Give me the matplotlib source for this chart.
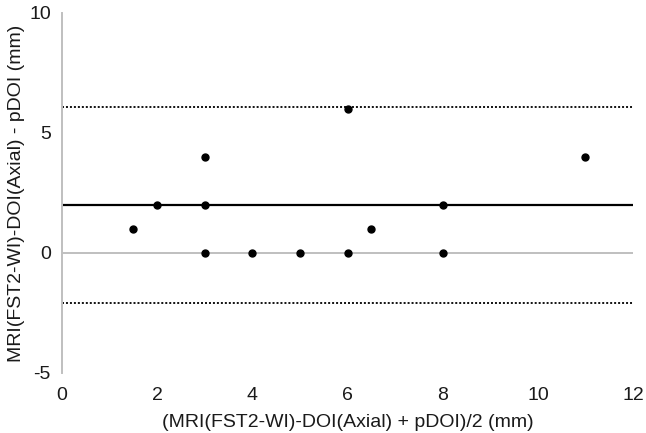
import matplotlib
matplotlib.use("Agg")
import matplotlib.pyplot as plt

# Data (Bland-Altman)
mean_vals = [1.5, 2, 3, 3, 3, 4, 5, 6, 6, 6.5, 8, 8, 11]
diff_vals = [1, 2, 4, 2, 0, 0, 0, 6, 0, 1, 2, 0, 4]
bias = 2.0
upper_loa = 6.08
lower_loa = -2.08
x_ticks = [0, 2, 4, 6, 8, 10, 12]
y_ticks = [-5, 0, 5, 10]
x_label = "(MRI(FST2-WI)-DOI(Axial) + pDOI)/2 (mm)"
y_label = "MRI(FST2-WI)-DOI(Axial) - pDOI (mm)"

plt.rcParams['font.family'] = ['Liberation Sans', 'DejaVu Sans']

fig = plt.figure(figsize=(6.46, 4.33), dpi=100)
ax = fig.add_axes([0.096, 0.1386, 0.884, 0.8314])

ax.set_xlim(0, 12)
ax.set_ylim(-5, 10)

# zero line (horizontal axis line, gray)
ax.axhline(0, color='#BFBFBF', lw=1.4, zorder=1)
# bias and limits of agreement
ax.axhline(bias, color='black', lw=1.6, zorder=2)
ax.axhline(upper_loa, color='black', lw=1.3, ls=(0, (1.1, 1.1)), zorder=2)
ax.axhline(lower_loa, color='black', lw=1.3, ls=(0, (1.1, 1.1)), zorder=2)

ax.plot(mean_vals, diff_vals, 'o', color='black', markersize=5, zorder=3)

for s in ['top', 'right', 'bottom']:
    ax.spines[s].set_visible(False)
ax.spines['left'].set_color('#BFBFBF')
ax.spines['left'].set_linewidth(1.4)

txt = '#1a1a1a'
ax.set_xticks(x_ticks)
ax.set_yticks(y_ticks)
ax.set_xticklabels([str(v) for v in x_ticks])
ax.set_yticklabels([str(v) for v in y_ticks])
ax.tick_params(axis='both', length=0, labelsize=14, labelcolor=txt)
ax.tick_params(axis='y', pad=8)
ax.tick_params(axis='x', pad=10)

ax.set_xlabel(x_label, fontsize=14, color=txt, labelpad=7)
ax.set_ylabel(y_label, fontsize=14, color=txt, labelpad=3)

fig.savefig("out.png", dpi=100)
